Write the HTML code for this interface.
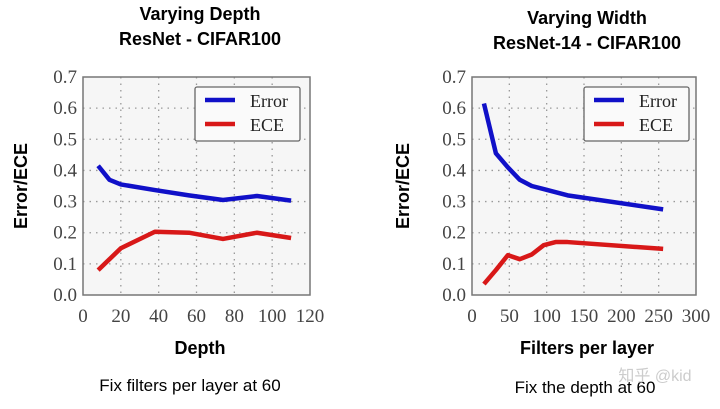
<!DOCTYPE html>
<html><head><meta charset="utf-8"><style>
body{margin:0;background:#fff;width:720px;height:404px;overflow:hidden;font-family:"Liberation Sans",sans-serif}
</style></head><body>
<svg id="svg" width="720" height="404" xmlns="http://www.w3.org/2000/svg">
<text x="200" y="20" text-anchor="middle" font-weight="bold" font-size="18">Varying Depth</text>
<text x="200" y="45" text-anchor="middle" font-weight="bold" font-size="18">ResNet - CIFAR100</text>
<text x="587" y="24" text-anchor="middle" font-weight="bold" font-size="18">Varying Width</text>
<text x="587" y="49" text-anchor="middle" font-weight="bold" font-size="18">ResNet-14 - CIFAR100</text>
<text x="200" y="354" text-anchor="middle" font-weight="bold" font-size="18">Depth</text>
<text x="587" y="354" text-anchor="middle" font-weight="bold" font-size="18">Filters per layer</text>
<text transform="translate(27,186) rotate(-90)" text-anchor="middle" font-weight="bold" font-size="18">Error/ECE</text>
<text transform="translate(409,186) rotate(-90)" text-anchor="middle" font-weight="bold" font-size="18">Error/ECE</text>
<text x="190" y="391" text-anchor="middle" font-size="17">Fix filters per layer at 60</text>
<text x="585" y="393" text-anchor="middle" font-size="17">Fix the depth at 60</text>
<text x="655" y="381" text-anchor="middle" font-size="16" fill="#ccc" font-family="'Liberation Sans','Noto Sans CJK SC',sans-serif">知乎 @kid</text>
</svg>
<script>
const leftErrX=[8,14,20,38,56,74,92,110];
const leftErrY=[0.415,0.37,0.355,0.337,0.32,0.305,0.318,0.303];
const leftEceX=[8,20,38,56,74,92,110];
const leftEceY=[0.08,0.15,0.203,0.2,0.18,0.2,0.183];
const leftXTicks=[0,20,40,60,80,100,120];
const rightErrX=[16,32,48,64,80,96,128,256];
const rightErrY=[0.615,0.455,0.41,0.37,0.35,0.34,0.32,0.275];
const rightEceX=[16,32,48,64,80,96,112,128,256];
const rightEceY=[0.035,0.08,0.128,0.115,0.13,0.16,0.17,0.17,0.148];
const rightXTicks=[0,50,100,150,200,250,300];
const yTicks=[0.0,0.1,0.2,0.3,0.4,0.5,0.6,0.7];
const NS="http://www.w3.org/2000/svg";
const svg=document.getElementById('svg');
function mk(t,a){const e=document.createElementNS(NS,t);for(const k in a)e.setAttribute(k,a[k]);svg.appendChild(e);return e;}
function panel(p,x0,x1,xmax,xt,ex,ey,cx,cy,lg){
  const y0=295,y1=77;
  const X=v=>x0+(x1-x0)*v/xmax, Y=v=>y0+(y1-y0)*v/0.7;
  let r=mk('rect',{x:x0,y:y1,width:x1-x0,height:y0-y1,fill:'#f6f6f6'});
  
  
  yTicks.forEach(v=>{
    if(v>0&&v<0.7){let g=mk('line',{x1:x0,x2:x1,y1:Y(v),y2:Y(v),stroke:'#999','stroke-dasharray':'1.5 5','stroke-width':1.3});
    
    }
    let t=mk('text',{x:x0-6,y:Y(v)+6,'text-anchor':'end','font-size':19,'font-family':'Liberation Serif,serif',fill:'#444'});
    t.textContent=v.toFixed(1);
    
    
  });
  xt.forEach(v=>{
    if(v>0&&v<xmax){let g=mk('line',{x1:X(v),x2:X(v),y1:y1,y2:y0,stroke:'#999','stroke-dasharray':'1.5 5','stroke-width':1.3});
    
    }
    let t=mk('text',{x:X(v),y:y0+27,'text-anchor':'middle','font-size':19,'font-family':'Liberation Serif,serif',fill:'#444'});
    t.textContent=v;
    
    
  });
  let f=mk('rect',{x:x0,y:y1,width:x1-x0,height:y0-y1,fill:'none',stroke:'#777','stroke-width':1.5});
  
  
  let l1=mk('polyline',{points:ex.map((v,i)=>X(v)+','+Y(ey[i])).join(' '),fill:'none',stroke:'#1010c8','stroke-width':4.5,'stroke-linejoin':'round'});
  
  
  let l2=mk('polyline',{points:cx.map((v,i)=>X(v)+','+Y(cy[i])).join(' '),fill:'none',stroke:'#d81818','stroke-width':4.5,'stroke-linejoin':'round'});
  
  
  let b=mk('rect',{x:lg,y:87,width:105,height:54,fill:'#fafafa',stroke:'#666','stroke-width':1.3,rx:2});
  
  
  [['Error','#1010c8',102],['ECE','#d81818',126]].forEach(([n,c,y])=>{
    let s=mk('line',{x1:lg+10,x2:lg+40,y1:y-2,y2:y-2,stroke:c,'stroke-width':4.5});
    
    
    let t=mk('text',{x:lg+55,y:y+5,'font-size':18,'font-family':'Liberation Serif,serif',fill:'#222'});
    t.textContent=n;
    
    
  });
}
panel('left',83,310,120,leftXTicks,leftErrX,leftErrY,leftEceX,leftEceY,195);
panel('right',472,696,300,rightXTicks,rightErrX,rightErrY,rightEceX,rightEceY,584);
</script>
</body></html>
